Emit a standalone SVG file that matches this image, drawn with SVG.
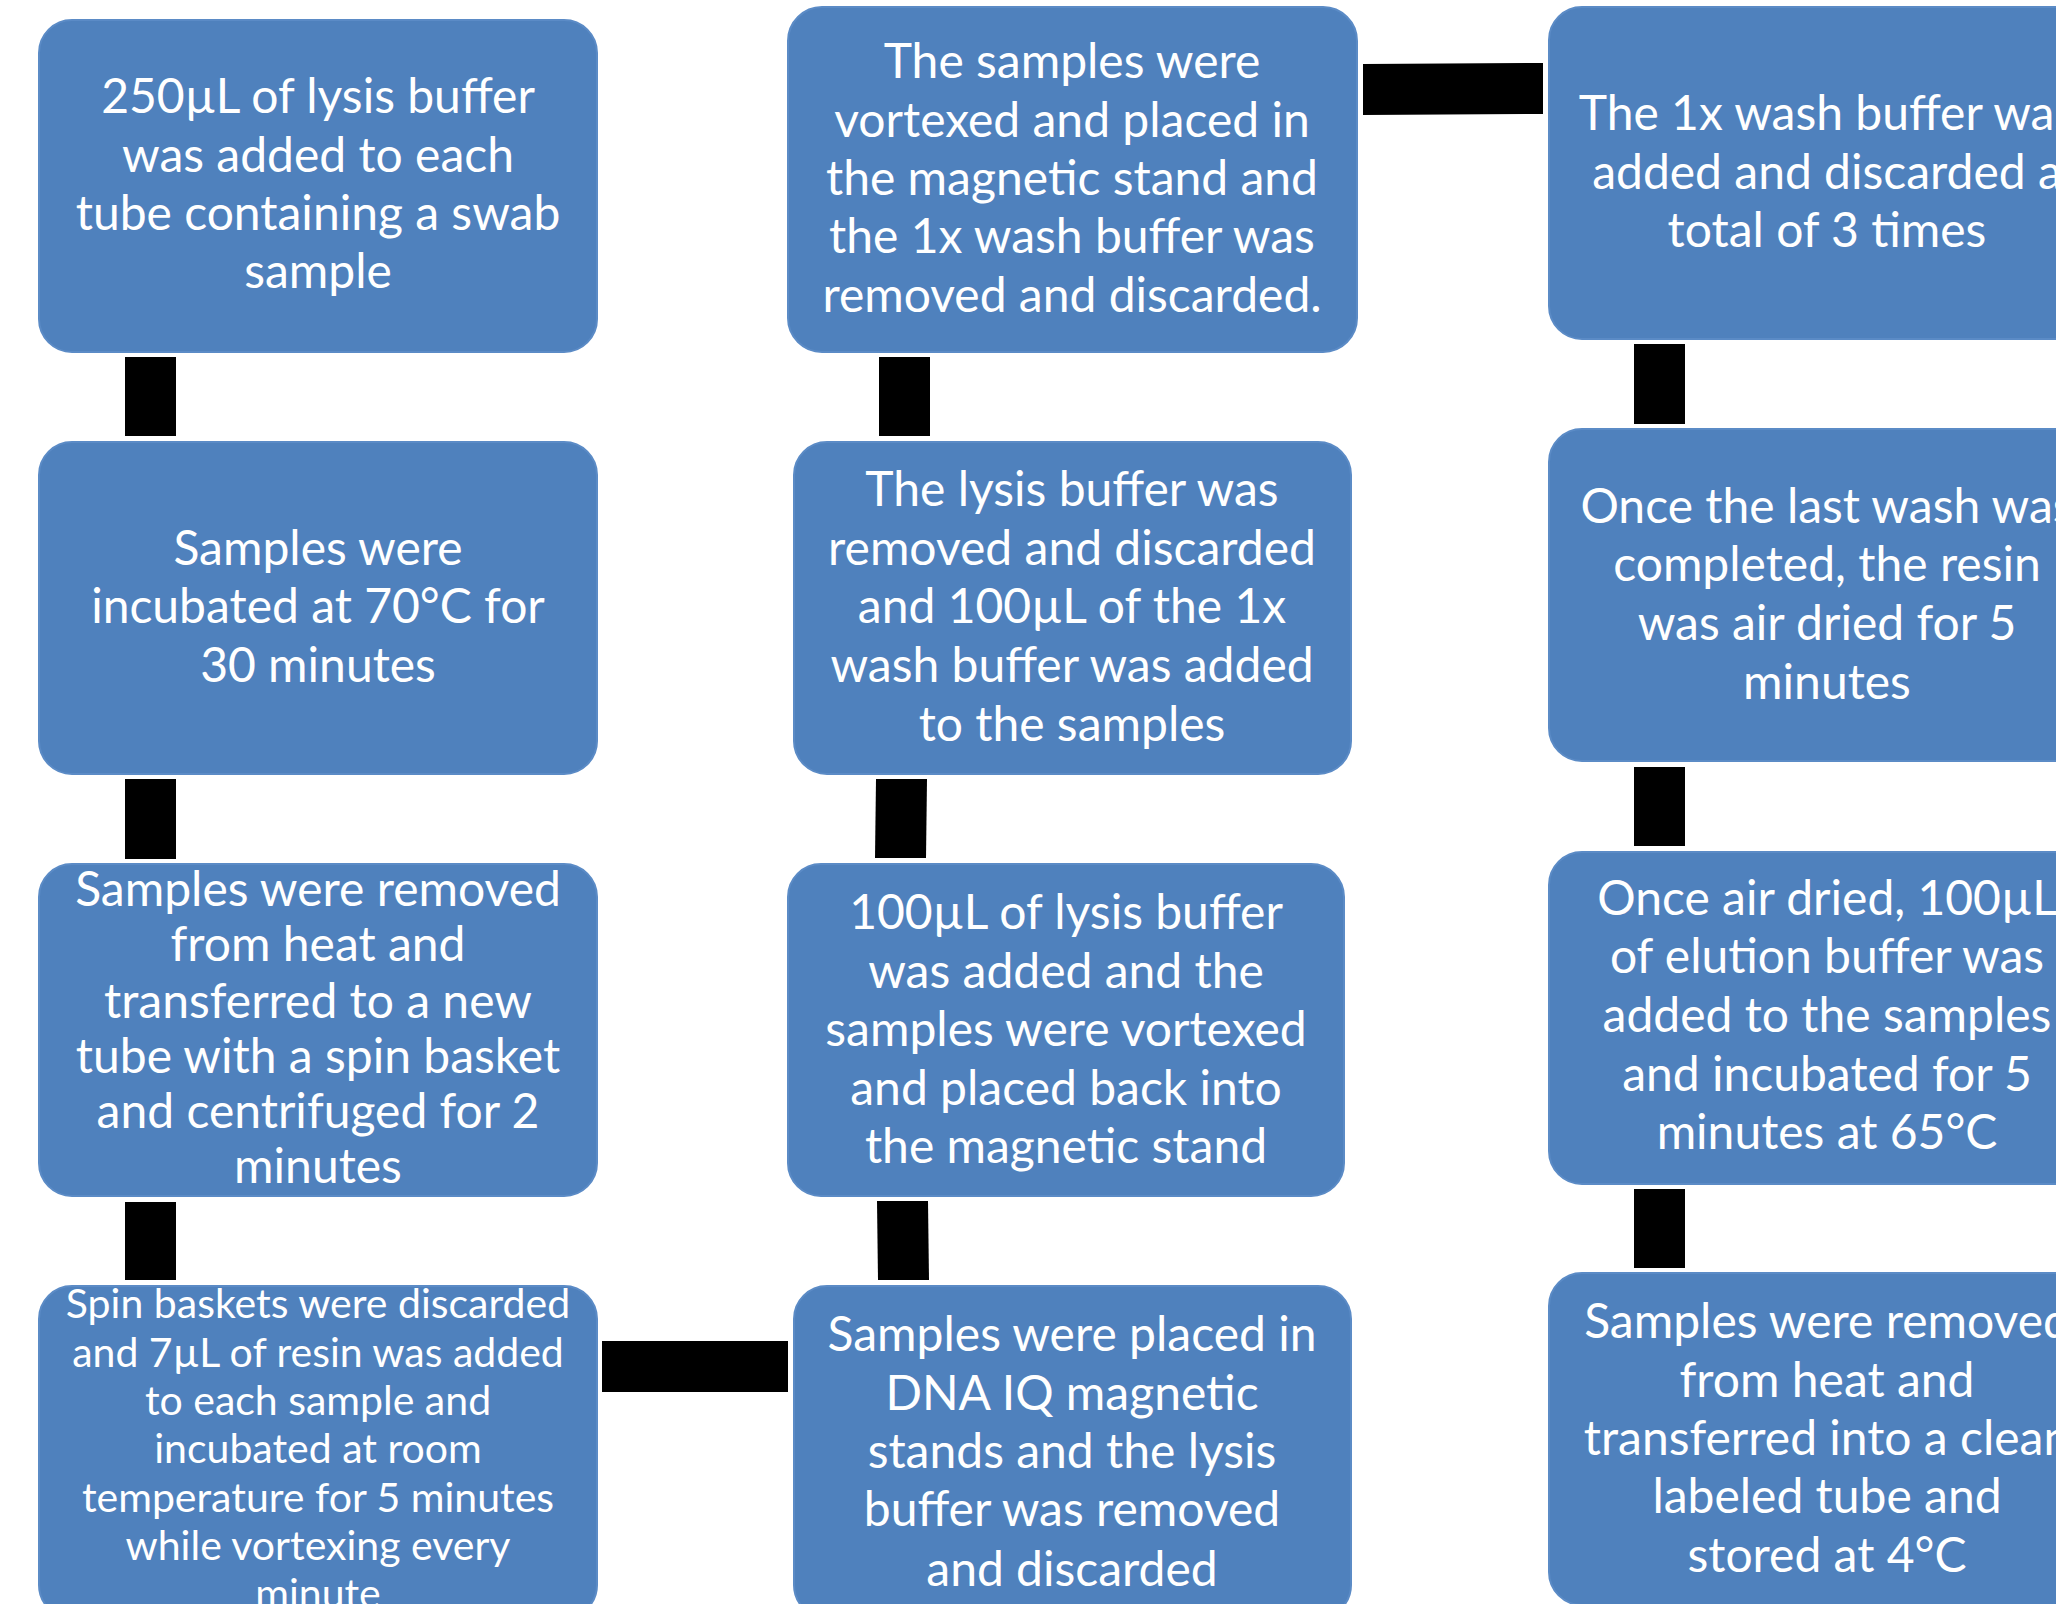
<svg xmlns="http://www.w3.org/2000/svg" width="2056" height="1604" viewBox="0 0 2056 1604">
<style>
.box{fill:#4F81BD;stroke:#5B8BC6;stroke-width:2}
.t{font-family:Lato,"Open Sans","Liberation Sans",sans-serif;font-size:48px;fill:#FFFFFF;text-anchor:middle}
.s{font-size:41px}
.c{fill:#000000}
</style>
<rect width="2056" height="1604" fill="#FFFFFF"/>
<g id="connectors">
<rect class="c" x="125" y="357" width="51" height="79"/>
<rect class="c" x="125" y="779" width="51" height="80"/>
<rect class="c" x="125" y="1202" width="51" height="78"/>
<rect class="c" x="602" y="1341" width="186" height="51"/>
<polygon class="c" points="877,1201 928,1201 929,1280 878,1280"/>
<polygon class="c" points="876,779 927,779 926,858 875,858"/>
<rect class="c" x="879" y="357" width="51" height="79"/>
<polygon class="c" points="1363,64 1543,63 1543,114 1363,115"/>
<rect class="c" x="1634" y="344" width="51" height="80"/>
<rect class="c" x="1634" y="767" width="51" height="79"/>
<rect class="c" x="1634" y="1189" width="51" height="79"/>
</g>
<g id="node-l1">
<rect class="box" x="39" y="20" width="558" height="332" rx="33"/>
<text class="t" x="318" y="113">250µL of lysis buffer</text>
<text class="t" x="318" y="172">was added to each</text>
<text class="t" x="318" y="230">tube containing a swab</text>
<text class="t" x="318" y="288">sample</text>
</g>
<g id="node-l2">
<rect class="box" x="39" y="442" width="558" height="332" rx="33"/>
<text class="t" x="318" y="565">Samples were</text>
<text class="t" x="318" y="623">incubated at 70°C for</text>
<text class="t" x="318" y="682">30 minutes</text>
</g>
<g id="node-l3">
<rect class="box" x="39" y="864" width="558" height="332" rx="33"/>
<text class="t" x="318" y="906">Samples were removed</text>
<text class="t" x="318" y="961">from heat and</text>
<text class="t" x="318" y="1018">transferred to a new</text>
<text class="t" x="318" y="1073">tube with a spin basket</text>
<text class="t" x="318" y="1128">and centrifuged for 2</text>
<text class="t" x="318" y="1183">minutes</text>
</g>
<g id="node-l4">
<rect class="box" x="39" y="1286" width="558" height="332" rx="33"/>
<text class="t s" x="318" y="1318">Spin baskets were discarded</text>
<text class="t s" x="318" y="1367">and 7µL of resin was added</text>
<text class="t s" x="318" y="1415">to each sample and</text>
<text class="t s" x="318" y="1463">incubated at room</text>
<text class="t s" x="318" y="1512">temperature for 5 minutes</text>
<text class="t s" x="318" y="1560">while vortexing every</text>
<text class="t s" x="318" y="1608">minute</text>
</g>
<g id="node-m1">
<rect class="box" x="788" y="7" width="569" height="345" rx="34"/>
<text class="t" x="1072" y="78">The samples were</text>
<text class="t" x="1072" y="137">vortexed and placed in</text>
<text class="t" x="1072" y="195">the magnetic stand and</text>
<text class="t" x="1072" y="253">the 1x wash buffer was</text>
<text class="t" x="1072" y="312">removed and discarded.</text>
</g>
<g id="node-m2">
<rect class="box" x="794" y="442" width="557" height="332" rx="33"/>
<text class="t" x="1072" y="506">The lysis buffer was</text>
<text class="t" x="1072" y="565">removed and discarded</text>
<text class="t" x="1072" y="623">and 100µL of the 1x</text>
<text class="t" x="1072" y="682">wash buffer was added</text>
<text class="t" x="1072" y="741">to the samples</text>
</g>
<g id="node-m3">
<rect class="box" x="788" y="864" width="556" height="332" rx="33"/>
<text class="t" x="1066" y="929">100µL of lysis buffer</text>
<text class="t" x="1066" y="988">was added and the</text>
<text class="t" x="1066" y="1046">samples were vortexed</text>
<text class="t" x="1066" y="1105">and placed back into</text>
<text class="t" x="1066" y="1163">the magnetic stand</text>
</g>
<g id="node-m4">
<rect class="box" x="794" y="1286" width="557" height="332" rx="33"/>
<text class="t" x="1072" y="1351">Samples were placed in</text>
<text class="t" x="1072" y="1410">DNA IQ magnetic</text>
<text class="t" x="1072" y="1468">stands and the lysis</text>
<text class="t" x="1072" y="1526">buffer was removed</text>
<text class="t" x="1072" y="1586">and discarded</text>
</g>
<g id="node-r1">
<rect class="box" x="1549" y="7" width="558" height="332" rx="33"/>
<text class="t" x="1827" y="130">The 1x wash buffer was</text>
<text class="t" x="1827" y="189">added and discarded a</text>
<text class="t" x="1827" y="247">total of 3 times</text>
</g>
<g id="node-r2">
<rect class="box" x="1549" y="429" width="558" height="332" rx="33"/>
<text class="t" x="1827" y="523">Once the last wash was</text>
<text class="t" x="1827" y="581">completed, the resin</text>
<text class="t" x="1827" y="640">was air dried for 5</text>
<text class="t" x="1827" y="699">minutes</text>
</g>
<g id="node-r3">
<rect class="box" x="1549" y="852" width="558" height="332" rx="33"/>
<text class="t" x="1827" y="915">Once air dried, 100µL</text>
<text class="t" x="1827" y="973">of elution buffer was</text>
<text class="t" x="1827" y="1032">added to the samples</text>
<text class="t" x="1827" y="1091">and incubated for 5</text>
<text class="t" x="1827" y="1149">minutes at 65°C</text>
</g>
<g id="node-r4">
<rect class="box" x="1549" y="1273" width="558" height="332" rx="33"/>
<text class="t" x="1827" y="1338">Samples were removed</text>
<text class="t" x="1827" y="1397">from heat and</text>
<text class="t" x="1827" y="1455">transferred into a clean</text>
<text class="t" x="1827" y="1513">labeled tube and</text>
<text class="t" x="1827" y="1572">stored at 4°C</text>
</g>
</svg>
